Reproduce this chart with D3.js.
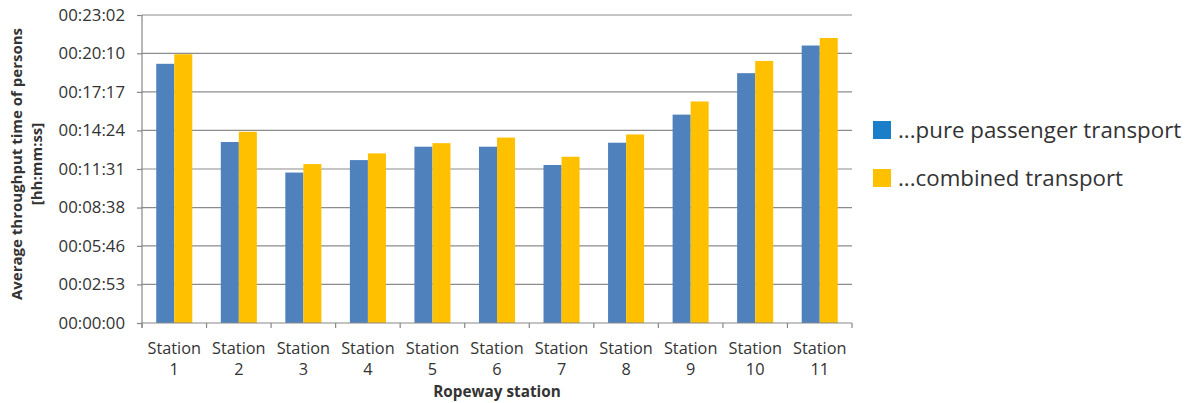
<!DOCTYPE html>
<html>
<head>
<meta charset="utf-8">
<script src="https://cdn.jsdelivr.net/npm/d3@7/dist/d3.min.js"></script>
<style>
  html, body { margin: 0; padding: 0; background: #ffffff; }
  svg { display: block; }
  text { font-family: "Open Sans", "DejaVu Sans", sans-serif; fill: #333333; }
</style>
</head>
<body>
<svg id="chart" width="1195" height="403"></svg>
<script>
// Ropeway stations along the line
const stationNames = ["1", "2", "3", "4", "5", "6", "7", "8", "9", "10", "11"];
// Average throughput time per station, in seconds
const purePassenger = [1163, 812, 675, 731, 791, 791, 709, 809, 935, 1121, 1245];
const combinedTransport = [1206, 858, 713, 761, 807, 832, 746, 846, 994, 1176, 1279];
// Value axis labels (hh:mm:ss)
const yTickLabels = ["00:00:00", "00:02:53", "00:05:46", "00:08:38", "00:11:31",
                     "00:14:24", "00:17:17", "00:20:10", "00:23:02"];
const seriesNames = ["...pure passenger transport", "...combined transport"];
const barColors = ["#4f81bd", "#ffc000"];
const legendColors = ["#1a7fc8", "#ffc000"];

const toSeconds = s => s.split(":").reduce((acc, p) => acc * 60 + (+p), 0);
const yTickValues = yTickLabels.map(toSeconds);

const svg = d3.select("#chart");
const plot = { left: 142, right: 852, top: 15, bottom: 323 };
const axisColor = "#878787";

const y = d3.scaleLinear()
  .domain([0, d3.max(yTickValues)])
  .range([plot.bottom, plot.top]);

const x0 = d3.scaleBand()
  .domain(stationNames)
  .range([plot.left, plot.right])
  .padding(0);

const x1 = d3.scaleBand()
  .domain([0, 1])
  .range([0, x0.bandwidth()])
  .paddingInner(0)
  .paddingOuter(0.79);

// Horizontal gridlines
svg.append("g")
  .selectAll("line")
  .data(yTickValues.slice(1))
  .join("line")
  .attr("x1", plot.left).attr("x2", plot.right)
  .attr("y1", d => y(d)).attr("y2", d => y(d))
  .attr("stroke", "#8c8c8c").attr("stroke-width", 1.2);

// Bars
const rows = stationNames.map((s, i) => ({ station: s, values: [purePassenger[i], combinedTransport[i]] }));
svg.append("g")
  .selectAll("g")
  .data(rows)
  .join("g")
  .attr("transform", d => `translate(${x0(d.station)},0)`)
  .selectAll("rect")
  .data(d => d.values.map((v, k) => ({ k, v })))
  .join("rect")
  .attr("x", d => x1(d.k))
  .attr("width", x1.bandwidth())
  .attr("y", d => y(d.v))
  .attr("height", d => y(0) - y(d.v))
  .attr("fill", d => barColors[d.k]);

// Left axis
const yAxis = d3.axisLeft(y)
  .tickValues(yTickValues)
  .tickFormat((d, i) => yTickLabels[i])
  .tickSize(5)
  .tickPadding(12);
const gy = svg.append("g")
  .attr("transform", `translate(${plot.left},0)`)
  .call(yAxis);
gy.select(".domain").remove();
gy.selectAll(".tick line").attr("stroke", axisColor).attr("stroke-width", 1.2);
gy.selectAll(".tick text")
  .attr("font-size", 16.8)
  .attr("font-family", "'Open Sans', sans-serif")
  .attr("fill", "#404040");
svg.append("line")
  .attr("x1", plot.left).attr("x2", plot.left)
  .attr("y1", plot.top).attr("y2", plot.bottom + 5)
  .attr("stroke", axisColor).attr("stroke-width", 1.2);

// Bottom axis with boundary ticks between stations
svg.append("line")
  .attr("x1", plot.left).attr("x2", plot.right)
  .attr("y1", plot.bottom).attr("y2", plot.bottom)
  .attr("stroke", axisColor).attr("stroke-width", 1.2);
const boundaries = stationNames.map(s => x0(s)).concat([x0.range()[1]]);
svg.append("g")
  .selectAll("line")
  .data(boundaries)
  .join("line")
  .attr("x1", d => d).attr("x2", d => d)
  .attr("y1", plot.bottom).attr("y2", plot.bottom + 5)
  .attr("stroke", axisColor).attr("stroke-width", 1.2);

const xl = svg.append("g")
  .selectAll("text")
  .data(stationNames)
  .join("text")
  .attr("text-anchor", "middle")
  .attr("font-size", 16.3)
  .attr("fill", "#404040")
  .attr("transform", d => `translate(${x0(d) + x0.bandwidth() / 2},0)`);
xl.append("tspan").attr("x", 0).attr("y", 354).text("Station");
xl.append("tspan").attr("x", 0).attr("y", 375).text(d => d);

// Axis titles
svg.append("text")
  .attr("x", (plot.left + plot.right) / 2)
  .attr("y", 397)
  .attr("text-anchor", "middle")
  .attr("font-size", 15.3)
  .attr("font-weight", "bold")
  .attr("fill", "#262626")
  .text("Ropeway station");

const yTitle = svg.append("text")
  .attr("transform", `translate(0,${(plot.top + plot.bottom) / 2 - 5}) rotate(-90)`)
  .attr("text-anchor", "middle")
  .attr("font-size", 15)
  .attr("font-weight", "bold")
  .attr("fill", "#262626");
yTitle.append("tspan").attr("x", 0).attr("y", 22).text("Average throughput time of persons");
yTitle.append("tspan").attr("x", 0).attr("y", 42).text("[hh:mm:ss]");

// Legend
const legend = svg.append("g")
  .selectAll("g")
  .data(seriesNames)
  .join("g")
  .attr("transform", (d, i) => `translate(873,${121 + i * 48})`);
legend.append("rect")
  .attr("width", 18).attr("height", 18)
  .attr("fill", (d, i) => legendColors[i]);
legend.append("text")
  .attr("x", 25).attr("y", 17)
  .attr("font-size", 22.3)
  .attr("fill", "#262626")
  .text(d => d);
</script>
</body>
</html>
